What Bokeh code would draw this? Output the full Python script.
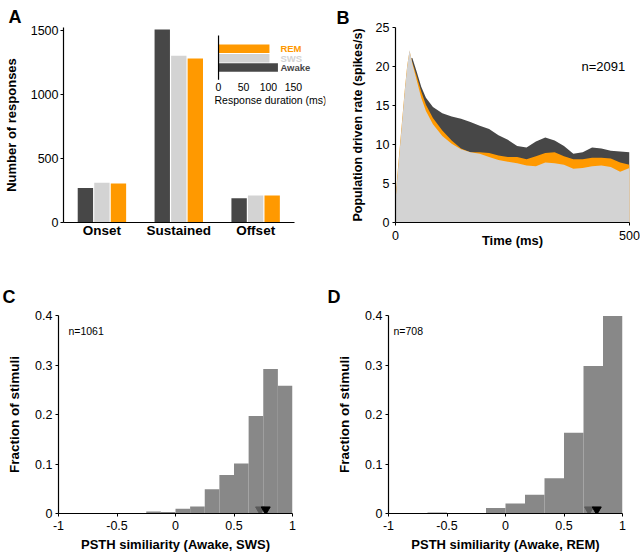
from bokeh.plotting import figure
from bokeh.models import (Range1d, ColumnDataSource, Label, LabelSet, FixedTicker)
from bokeh.layouts import column, row
from bokeh.transform import dodge
from bokeh.core.properties import value
from bokeh.embed import file_html
from bokeh.resources import INLINE

FONT = "Liberation Sans"
AWAKE = "#474747"
SWS = "#d3d3d3"
REM = "#ff9900"
HIST = "#888888"

# ---------------- Panel A data ----------------
categories = ["Onset", "Sustained", "Offset"]
awake_counts = [270, 1505, 190]
sws_counts = [310, 1300, 210]
rem_counts = [305, 1280, 210]
a_yticks = [0, 500, 1000, 1500]

inset_states = ["Awake", "SWS", "REM"]
inset_durations = [119, 102, 102]
inset_ticks = [0, 50, 100, 150]

# ---------------- Panel B data ----------------
time_ms = [0, 5, 10, 15, 20, 25, 30, 36, 45, 55, 65, 80, 100, 120, 140, 160, 180,
           200, 220, 240, 260, 280, 300, 320, 340, 360, 380, 400, 420, 440, 460, 480, 500]
awake_rate = [2.5, 6.0, 9.5, 13.0, 16.5, 19.5, 21.0, 21.1, 19.4, 17.4, 16.0, 14.8, 14.0,
              13.6, 13.3, 12.9, 12.4, 12.0, 11.2, 10.6, 9.8, 9.6, 10.4, 10.9, 10.5, 9.8,
              8.8, 9.0, 9.6, 9.5, 9.2, 9.1, 9.0]
rem_rate = [3.0, 6.8, 10.3, 13.7, 17.1, 20.1, 22.0, 20.5, 18.8, 16.8, 15.1, 13.4, 11.8,
            10.5, 9.5, 9.0, 9.0, 8.9, 8.6, 8.4, 8.4, 8.1, 8.5, 8.9, 9.0, 8.5,
            8.1, 8.1, 8.3, 8.3, 8.2, 7.7, 7.4]
sws_rate = [2.8, 6.5, 10.0, 13.5, 17.0, 20.0, 22.1, 20.4, 18.3, 16.0, 14.3, 12.6, 11.1,
            10.1, 9.4, 9.0, 8.8, 8.4, 8.0, 7.8, 7.6, 7.3, 7.2, 7.7, 7.6, 7.4,
            6.9, 7.0, 7.2, 7.3, 7.1, 6.5, 7.0]
b_yticks = [0, 5, 10, 15, 20, 25]
b_xticks = [0, 500]

# ---------------- Panel C data ----------------
c_edges = [-1.0, -0.875, -0.75, -0.625, -0.5, -0.375, -0.25, -0.125, 0.0,
           0.125, 0.25, 0.375, 0.5, 0.625, 0.75, 0.875, 1.0]
c_frac = [0.001, 0.001, 0.001, 0.001, 0.001, 0.001, 0.004, 0.003, 0.0095,
          0.014, 0.049, 0.078, 0.101, 0.197, 0.292, 0.258]
c_medians = [0.723, 0.771]

# ---------------- Panel D data ----------------
d_edges = [-1.0, -5/6, -4/6, -3/6, -2/6, -1/6, 0.0, 1/6, 2/6, 3/6, 4/6, 5/6, 1.0]
d_frac = [0.001, 0.0, 0.002, 0.0, 0.0, 0.011, 0.020, 0.038, 0.071, 0.163, 0.298, 0.399]
d_medians = [0.714, 0.78]

median_colors = ["#5a5a5a", "#000000"]
hist_xticks = [-1, -0.5, 0, 0.5, 1]
hist_xtick_labels = ["-1", "-0.5", "0", "0.5", "1"]
hist_yticks = [0, 0.1, 0.2, 0.3, 0.4]
hist_ytick_labels = ["0", "0.1", "0.2", "0.3", "0.4"]


def base_fig(w, h, bl, br, bt, bb, x_range, y_range, letter, letter_offset, letter_standoff):
    p = figure(width=w, height=h, x_range=x_range, y_range=y_range,
               output_backend="svg", toolbar_location=None,
               min_border_left=bl, min_border_right=br,
               min_border_top=bt, min_border_bottom=bb)
    p.outline_line_color = None
    p.grid.visible = False
    p.background_fill_color = "white"
    p.border_fill_color = "white"
    p.title.text = letter
    p.title.align = "left"
    p.title.offset = letter_offset
    p.title.standoff = letter_standoff
    p.title.text_font = FONT
    p.title.text_font_style = "bold"
    p.title.text_font_size = "18px"
    p.title.text_color = "black"
    for ax in p.axis:
        ax.axis_line_color = "black"
        ax.axis_line_width = 1.2
        ax.major_tick_line_color = "black"
        ax.minor_tick_line_color = None
        ax.major_tick_out = 3
        ax.major_tick_in = 0
        ax.major_label_standoff = 3
        ax.major_label_text_font = FONT
        ax.major_label_text_font_size = "12.5px"
        ax.major_label_text_color = "black"
        ax.axis_label_text_font = FONT
        ax.axis_label_text_font_style = "bold"
        ax.axis_label_text_font_size = "13px"
        ax.axis_label_text_color = "black"
    return p


# ================= Panel A =================
cat_pos = [i + 0.5 for i in range(len(categories))]
pA = base_fig(330, 276, 58, 5, 25, 54, Range1d(0, 3.409), Range1d(0, 1521), "A", -55, 1)
srcA = ColumnDataSource(dict(x=cat_pos, awake=awake_counts, sws=sws_counts, rem=rem_counts))
pA.vbar(x=dodge("x", -0.215), top="awake", width=0.2, source=srcA,
        fill_color=AWAKE, line_color=None)
pA.vbar(x=dodge("x", 0.0), top="sws", width=0.2, source=srcA,
        fill_color=SWS, line_color=None)
pA.vbar(x=dodge("x", 0.215), top="rem", width=0.2, source=srcA,
        fill_color=REM, line_color=None)
pA.xaxis.ticker = FixedTicker(ticks=cat_pos)
pA.xaxis.major_label_overrides = dict(zip(cat_pos, categories))
pA.xaxis.bounds = (0, len(categories))
pA.xaxis.major_tick_out = 0
pA.xaxis.major_label_standoff = 0
pA.xaxis.major_label_text_font_style = "bold"
pA.xaxis.major_label_text_font_size = "13.5px"
pA.yaxis.ticker = FixedTicker(ticks=a_yticks)
pA.yaxis.axis_label = "Number of responses"
pA.yaxis.axis_label_standoff = 9
pA.yaxis.major_label_standoff = 2

# inset (horizontal bars of response duration)
pA.extra_x_ranges = {"inset": Range1d(-310.6, 214.3)}
pA.extra_y_ranges = {"inset": Range1d(-16.47, 4.26)}
inset_pos = list(range(len(inset_states)))
srcI = ColumnDataSource(dict(y=inset_pos, right=inset_durations, state=inset_states,
                             color=[AWAKE, SWS, REM],
                             lx=[max(inset_durations) + 5] * len(inset_states)))
pA.hbar(y="y", left=0, right="right", height=0.9, source=srcI, fill_color="color",
        line_color=None, x_range_name="inset", y_range_name="inset")
pA.segment(x0=[inset_ticks[0]], y0=[-1.3], x1=[inset_ticks[0]], y1=[3.4],
           line_color="black", line_width=1.2, x_range_name="inset", y_range_name="inset")
pA.add_layout(LabelSet(x="lx", y="y", text="state", source=srcI, text_color="color",
                       text_font=value(FONT), text_font_style="bold",
                       text_font_size=value("9.5px"),
                       text_baseline="middle", text_align="left",
                       x_range_name="inset", y_range_name="inset"))
srcIT = ColumnDataSource(dict(x=inset_ticks, y=[-1.3] * len(inset_ticks),
                              t=[str(t) for t in inset_ticks]))
pA.add_layout(LabelSet(x="x", y="y", text="t", source=srcIT, y_offset=-3,
                       text_font=value(FONT), text_font_size=value("10.5px"),
                       text_color="black",
                       text_baseline="top", text_align="center",
                       x_range_name="inset", y_range_name="inset"))
pA.add_layout(Label(x=inset_ticks[0], y=-1.3, x_offset=-4, y_offset=-14,
                    text="Response duration (ms)", text_font=FONT,
                    text_font_size="10.5px", text_color="black",
                    text_baseline="top", text_align="left",
                    x_range_name="inset", y_range_name="inset"))

# ================= Panel B =================
pB = base_fig(310, 276, 65, 11, 27, 54, Range1d(0, 500), Range1d(0, 25), "B", -59, 0)
srcB = ColumnDataSource(dict(t=time_ms, awake=awake_rate, rem=rem_rate, sws=sws_rate))
pB.varea(x="t", y1=0, y2="awake", source=srcB, fill_color=AWAKE)
pB.varea(x="t", y1=0, y2="rem", source=srcB, fill_color=REM)
pB.varea(x="t", y1=0, y2="sws", source=srcB, fill_color=SWS)
pB.yaxis.ticker = FixedTicker(ticks=b_yticks)
pB.xaxis.ticker = FixedTicker(ticks=b_xticks)
pB.yaxis.axis_label = "Population driven rate (spikes/s)"
pB.yaxis.axis_label_text_font_size = "12.5px"
pB.yaxis.axis_label_standoff = 8
pB.xaxis.axis_label = "Time (ms)"
pB.xaxis.axis_label_standoff = -10
pB.xaxis.major_label_standoff = 5
pB.add_layout(Label(x=444, y=20, text="n=2091", text_font=FONT, text_font_size="13px",
                    text_align="center", text_baseline="middle", text_color="black"))


# ================= Panels C & D =================
def hist_panel(w, bl, br, edges, frac, medians, ntext, nx, xlabel, letter, loff):
    p = base_fig(w, 280, bl, br, 5, 43, Range1d(-1, 1), Range1d(0, 0.4), letter, loff, 17)
    src = ColumnDataSource(dict(left=edges[:-1], right=edges[1:], top=frac))
    p.quad(left="left", right="right", bottom=0, top="top", source=src,
           fill_color=HIST, line_color=None)
    p.scatter(x=medians, y=[0.008] * len(medians), marker="inverted_triangle", size=9,
              fill_color=median_colors, line_color=median_colors)
    p.xaxis.ticker = FixedTicker(ticks=hist_xticks)
    p.xaxis.major_label_overrides = dict(zip(hist_xticks, hist_xtick_labels))
    p.yaxis.ticker = FixedTicker(ticks=hist_yticks)
    p.yaxis.major_label_overrides = dict(zip(hist_yticks, hist_ytick_labels))
    p.xaxis.axis_label = xlabel
    p.xaxis.axis_label_standoff = 4
    p.xaxis.major_label_standoff = 4
    p.yaxis.axis_label = "Fraction of stimuli"
    p.yaxis.axis_label_text_font_size = "13.5px"
    p.yaxis.axis_label_standoff = 10
    p.add_layout(Label(x=nx, y=0.368, text=ntext, text_font=FONT, text_font_size="10.5px",
                       text_align="left", text_baseline="middle", text_color="black"))
    return p


pC = hist_panel(326, 58, 34, c_edges, c_frac, c_medians, "n=1061", -0.915,
                "PSTH similiarity (Awake, SWS)", "C", -56)
pD = hist_panel(314, 62, 18, d_edges, d_frac, d_medians, "n=708", -0.957,
                "PSTH similiarity (Awake, REM)", "D", -61)

layout = column(row(pA, pB), row(pC, pD))
open("out.html", "w").write(file_html(layout, INLINE))
